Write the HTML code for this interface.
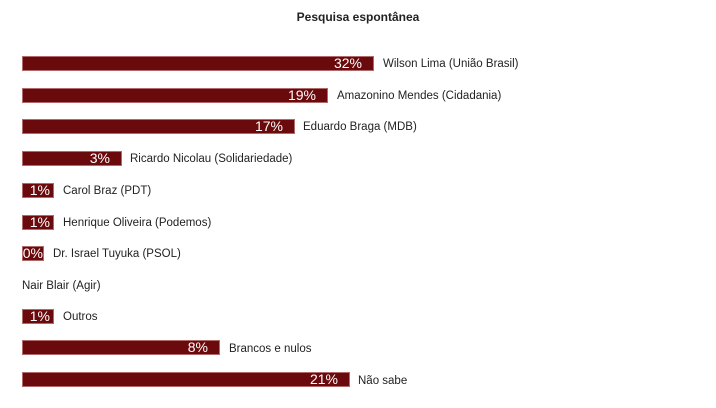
<!DOCTYPE html><html><head><style>
body{margin:0;width:716px;height:408px;background:#fff;font-family:"Liberation Sans",sans-serif;position:relative;overflow:hidden}
.t{position:absolute;top:10px;left:0;width:716px;text-align:center;font-size:12px;font-weight:bold;color:#222}
.b{position:absolute;left:22px;height:15px;background:#6a0a0c;box-shadow:0 0 0 1px #b06a6a inset;color:#fff;font-size:14px;text-align:right;line-height:15px;box-sizing:border-box;padding-right:12px}
.l{position:absolute;font-size:11.5px;color:#222;line-height:15px}
</style></head><body>
<div class="t">Pesquisa espontânea</div>
<div class="b" style="top:56px;width:352px">32%</div><div class="l" style="top:57px;left:383px">Wilson Lima (União Brasil)</div>
<div class="b" style="top:88px;width:306px">19%</div><div class="l" style="top:89px;left:337px">Amazonino Mendes (Cidadania)</div>
<div class="b" style="top:119px;width:273px">17%</div><div class="l" style="top:120px;left:303px">Eduardo Braga (MDB)</div>
<div class="b" style="top:151px;width:100px">3%</div><div class="l" style="top:152px;left:130px">Ricardo Nicolau (Solidariedade)</div>
<div class="b" style="top:183px;width:32px;padding-right:4px">1%</div><div class="l" style="top:184px;left:63px">Carol Braz (PDT)</div>
<div class="b" style="top:215px;width:32px;padding-right:4px">1%</div><div class="l" style="top:216px;left:63px">Henrique Oliveira (Podemos)</div>
<div class="b" style="top:246px;width:22px;padding-right:1px">0%</div><div class="l" style="top:247px;left:53px">Dr. Israel Tuyuka (PSOL)</div>
<div class="l" style="top:279px;left:22px">Nair Blair (Agir)</div>
<div class="b" style="top:309px;width:32px;padding-right:4px">1%</div><div class="l" style="top:310px;left:63px">Outros</div>
<div class="b" style="top:340px;width:198px">8%</div><div class="l" style="top:342px;left:229px">Brancos e nulos</div>
<div class="b" style="top:372px;width:328px">21%</div><div class="l" style="top:374px;left:358px">Não sabe</div>
</body></html>
